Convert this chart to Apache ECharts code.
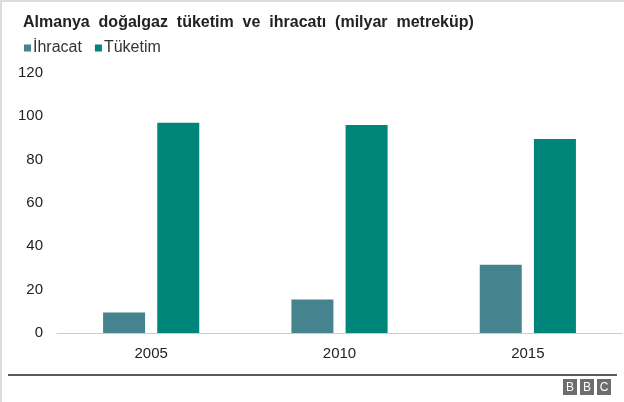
<!DOCTYPE html>
<html>
<head>
<meta charset="utf-8">
<script src="https://cdn.jsdelivr.net/npm/echarts@6/dist/echarts.min.js"></script>
<style>
html,body{margin:0;padding:0;background:#fff;}
#c{width:624px;height:402px;}
</style>
</head>
<body>
<div id="c"></div>
<script>
const titleText = 'Almanya  doğalgaz  tüketim  ve  ihracatı  (milyar  metreküp)';
const categories = ['2005', '2010', '2015'];
const seriesNames = ['İhracat', 'Tüketim'];
const ihracat = [9.5, 15.5, 31.5];
const tuketim = [97, 96, 89.5];
const yTicks = [0, 20, 40, 60, 80, 100, 120];
const colors = ['#45838f', '#00857a'];

const chart = echarts.init(document.getElementById('c'));
const font = 'Arial, "Liberation Sans", sans-serif';
chart.setOption({
  animation: false,
  color: colors,
  title: {
    text: titleText,
    left: 18, top: 10,
    textStyle: {fontFamily: font, fontSize: 16, fontWeight: 'bold', color: '#222'}
  },
  legend: {
    left: 19, top: 35,
    itemWidth: 7, itemHeight: 7, itemGap: 13,
    icon: 'rect',
    textStyle: {fontFamily: font, fontSize: 16, color: '#333', padding: [0, 0, 0, -3]},
    data: seriesNames
  },
  grid: {left: 57, right: 2, top: 73, height: 260, containLabel: false},
  xAxis: {
    type: 'category',
    data: categories,
    axisLine: {lineStyle: {color: '#cccccc', width: 1}},
    axisTick: {show: false},
    axisLabel: {fontFamily: font, fontSize: 15, color: '#222', margin: 13}
  },
  yAxis: {
    type: 'value',
    min: yTicks[0], max: yTicks[yTicks.length - 1], interval: 20,
    splitLine: {show: false},
    axisLine: {show: false},
    axisTick: {show: false},
    axisLabel: {fontFamily: font, fontSize: 15, color: '#222', margin: 14}
  },
  series: [
    {name: seriesNames[0], type: 'bar', data: ihracat, barWidth: 42, barGap: '29%'},
    {name: seriesNames[1], type: 'bar', data: tuketim, barWidth: 42, barGap: '29%'}
  ],
  graphic: [
    {type: 'rect', shape: {x: 0, y: 0, width: 624, height: 2}, style: {fill: '#dcdcdc'}, silent: true},
    {type: 'rect', shape: {x: 0, y: 0, width: 2, height: 402}, style: {fill: '#dcdcdc'}, silent: true},
    {type: 'rect', shape: {x: 8, y: 374, width: 609, height: 2}, style: {fill: '#5a5a5a'}, silent: true},
    {type: 'group', left: 563, top: 379, children: [
      {type: 'rect', shape: {x: 0, y: 0, width: 14, height: 16}, style: {fill: '#6d6d6d'}},
      {type: 'rect', shape: {x: 17, y: 0, width: 14, height: 16}, style: {fill: '#6d6d6d'}},
      {type: 'rect', shape: {x: 34, y: 0, width: 14, height: 16}, style: {fill: '#6d6d6d'}},
      {type: 'text', x: 7, y: 8.5, style: {text: 'B', fill: '#fff', font: '12px Arial', align: 'center', verticalAlign: 'middle'}},
      {type: 'text', x: 24, y: 8.5, style: {text: 'B', fill: '#fff', font: '12px Arial', align: 'center', verticalAlign: 'middle'}},
      {type: 'text', x: 41, y: 8.5, style: {text: 'C', fill: '#fff', font: '12px Arial', align: 'center', verticalAlign: 'middle'}}
    ]}
  ]
});
</script>
</body>
</html>
